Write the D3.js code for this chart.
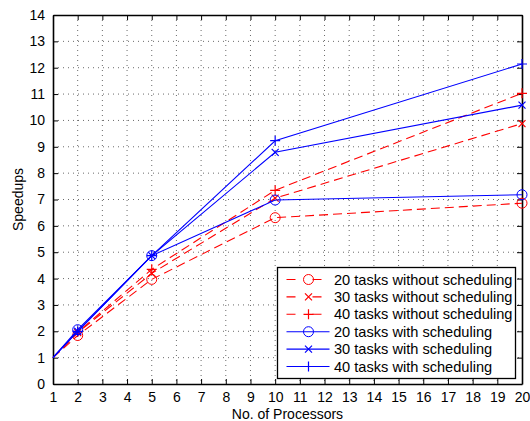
<!DOCTYPE html>
<html>
<head>
<meta charset="utf-8">
<script src="https://cdn.jsdelivr.net/npm/d3@7"></script>
<style>
  body { margin: 0; background: #fff; }
  text { font-family: "Liberation Sans", Arial, sans-serif; fill: #000; }
</style>
</head>
<body>
<div id="chart"></div>
<script>
// processors on the x axis
var processors = [1, 2, 5, 10, 20];

// speedups
var noSched20 = [1, 1.84, 3.97, 6.31, 6.86];
var noSched30 = [1, 1.95, 4.2, 7.05, 9.88];
var noSched40 = [1, 1.97, 4.35, 7.35, 11.03];
var sched20 = [1, 2.06, 4.87, 6.98, 7.18];
var sched30 = [1, 2.0, 4.87, 8.79, 10.58];
var sched40 = [1, 2.0, 4.87, 9.23, 12.14];

var seriesNames = [
  "20 tasks without scheduling",
  "30 tasks without scheduling",
  "40 tasks without scheduling",
  "20 tasks with scheduling",
  "30 tasks with scheduling",
  "40 tasks with scheduling"
];

var xTicks = d3.range(1, 21);
var yTicks = d3.range(0, 15);

var svgWidth = 530;
var svgHeight = 421;
var margin = { top: 15, right: 8, bottom: 37, left: 53 };
var width = svgWidth - margin.left - margin.right;
var height = svgHeight - margin.top - margin.bottom;

var series = [
  { name: seriesNames[0], values: noSched20, color: "#ff0000", dash: "9,5", marker: "circle" },
  { name: seriesNames[1], values: noSched30, color: "#ff0000", dash: "9,5", marker: "x" },
  { name: seriesNames[2], values: noSched40, color: "#ff0000", dash: "9,5", marker: "plus" },
  { name: seriesNames[3], values: sched20, color: "#0000ff", dash: null, marker: "circle" },
  { name: seriesNames[4], values: sched30, color: "#0000ff", dash: null, marker: "x" },
  { name: seriesNames[5], values: sched40, color: "#0000ff", dash: null, marker: "plus" }
];

var svg = d3.select("#chart")
  .append("svg")
  .attr("width", svgWidth)
  .attr("height", svgHeight);

var chartGroup = svg.append("g")
  .attr("transform", `translate(${margin.left}, ${margin.top})`);

var xScale = d3.scaleLinear().domain([1, 20]).range([0, width]);
var yScale = d3.scaleLinear().domain([0, 14]).range([height, 0]);

// dotted grid
chartGroup.append("g")
  .selectAll("line")
  .data(xTicks.slice(1, -1))
  .enter()
  .append("line")
  .attr("x1", d => xScale(d)).attr("x2", d => xScale(d))
  .attr("y1", 0).attr("y2", height)
  .attr("stroke", "#444")
  .attr("stroke-width", 0.8)
  .attr("stroke-dasharray", "1,4");

chartGroup.append("g")
  .selectAll("line")
  .data(yTicks.slice(1, -1))
  .enter()
  .append("line")
  .attr("y1", d => yScale(d)).attr("y2", d => yScale(d))
  .attr("x1", 0).attr("x2", width)
  .attr("stroke", "#444")
  .attr("stroke-width", 0.8)
  .attr("stroke-dasharray", "1,4");

// axes with inward ticks, also mirrored on top and right
var bottomAxis = d3.axisBottom(xScale).tickValues(xTicks).tickSizeInner(-5).tickSizeOuter(0).tickPadding(8).tickFormat(d3.format("d"));
var leftAxis = d3.axisLeft(yScale).tickValues(yTicks).tickSizeInner(-5).tickSizeOuter(0).tickPadding(8).tickFormat(d3.format("d"));
var topAxis = d3.axisTop(xScale).tickValues(xTicks).tickSizeInner(-5).tickSizeOuter(0).tickFormat("");
var rightAxis = d3.axisRight(yScale).tickValues(yTicks).tickSizeInner(-5).tickSizeOuter(0).tickFormat("");

function styleAxis(g) {
  g.select(".domain").attr("stroke", "#000").attr("stroke-width", 1.6);
  g.selectAll(".tick line").attr("stroke", "#000").attr("stroke-width", 1);
  g.selectAll(".tick text").style("font-size", "14px").attr("fill", "#000");
}

chartGroup.append("g").attr("transform", `translate(0, ${height})`).call(bottomAxis).call(styleAxis);
chartGroup.append("g").call(leftAxis).call(styleAxis);
chartGroup.append("g").call(topAxis).call(styleAxis);
chartGroup.append("g").attr("transform", `translate(${width}, 0)`).call(rightAxis).call(styleAxis);

// marker drawing
function drawMarker(g, kind, cx, cy, color) {
  if (kind === "circle") {
    g.append("circle").attr("cx", cx).attr("cy", cy).attr("r", 5)
      .attr("fill", "none").attr("stroke", color).attr("stroke-width", 1);
  } else if (kind === "x") {
    var s = 3.5;
    g.append("path")
      .attr("d", `M${cx - s},${cy - s}L${cx + s},${cy + s}M${cx - s},${cy + s}L${cx + s},${cy - s}`)
      .attr("stroke", color).attr("stroke-width", 1.2).attr("fill", "none");
  } else {
    var p = 5;
    g.append("path")
      .attr("d", `M${cx - p},${cy}L${cx + p},${cy}M${cx},${cy - p}L${cx},${cy + p}`)
      .attr("stroke", color).attr("stroke-width", 1.2).attr("fill", "none");
  }
}

var line = d3.line()
  .x((d, i) => xScale(processors[i]))
  .y(d => yScale(d));

var plot = chartGroup.append("g");
series.forEach(function(s) {
  plot.append("path")
    .datum(s.values)
    .attr("d", line)
    .attr("fill", "none")
    .attr("stroke", s.color)
    .attr("stroke-width", 1.1)
    .attr("stroke-dasharray", s.dash);
  // the first point (1 processor) has no marker in the original
  s.values.forEach(function(v, i) {
    if (i === 0) return;
    drawMarker(plot, s.marker, xScale(processors[i]), yScale(v), s.color);
  });
});

// legend
var legend = svg.append("g").attr("transform", "translate(277.5, 267.5)");
legend.append("rect")
  .attr("width", 238).attr("height", 111)
  .attr("fill", "#fff").attr("stroke", "#000").attr("stroke-width", 1.3);

series.forEach(function(s, i) {
  var y = 12 + i * 17.4;
  var row = legend.append("g");
  row.append("line")
    .attr("x1", 9).attr("x2", 52).attr("y1", y).attr("y2", y)
    .attr("stroke", s.color).attr("stroke-width", 1.1)
    .attr("stroke-dasharray", s.dash ? "9,6.5,0,10.5,9" : null);
  drawMarker(row, s.marker, 31, y, s.color);
  row.append("text")
    .attr("x", 56.5).attr("y", y + 5)
    .style("font-size", "14.6px")
    .text(s.name);
});

// axis titles
svg.append("text")
  .attr("x", margin.left + width / 2)
  .attr("y", 418.5)
  .attr("text-anchor", "middle")
  .style("font-size", "14px")
  .text("No. of Processors");

svg.append("text")
  .attr("transform", `translate(23, ${margin.top + height / 2}) rotate(-90)`)
  .attr("text-anchor", "middle")
  .style("font-size", "14px")
  .text("Speedups");
</script>
</body>
</html>
